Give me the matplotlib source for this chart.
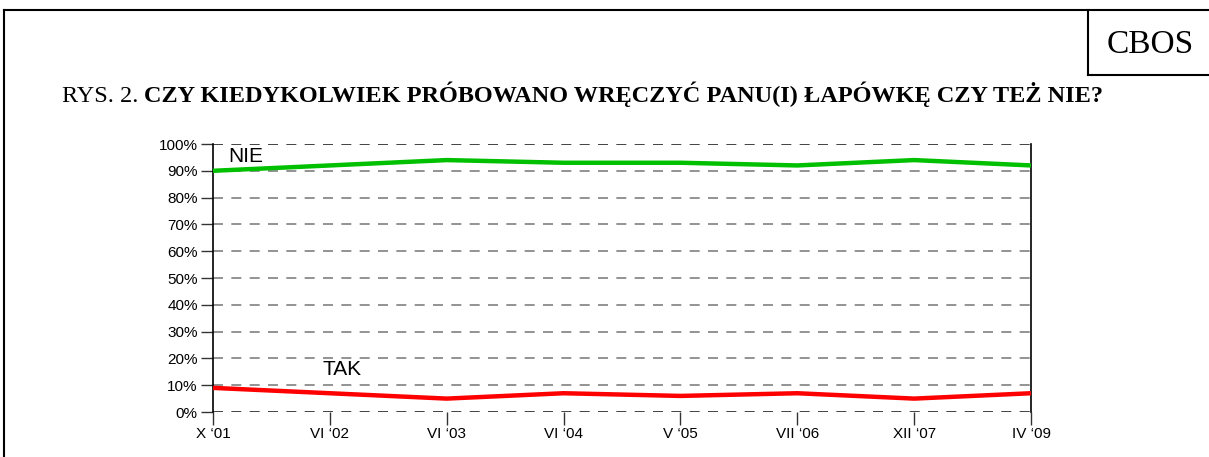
'''CBOS chart: bribery attempts over time'''
import matplotlib
matplotlib.use('Agg')
import matplotlib.pyplot as plt
from matplotlib.lines import Line2D

SURVEYS = ['X \u201801', 'VI \u201802', 'VI \u201803', 'VI \u201804', 'V \u201805', 'VII \u201806', 'XII \u201807', 'IV \u201809']
NIE = [90, 92, 94, 93, 93, 92, 94, 92]
TAK = [9, 7, 5, 7, 6, 7, 5, 7]
Y_TICKS = list(range(0, 101, 10))


def make_picture():
	fig = plt.figure(figsize=(12.09, 4.57), dpi=100)
	ax = fig.add_axes([213/1209, 1 - 412/457, (1031-213)/1209, (412-144)/457])

	x = list(range(len(SURVEYS)))
	ax.plot(x, NIE, color='#00c000', lw=3.2, solid_capstyle='butt', zorder=3, clip_on=False)
	ax.plot(x, TAK, color='#ff0000', lw=3.2, solid_capstyle='butt', zorder=3, clip_on=False)

	for v in Y_TICKS:
		c = '#222222' if v in (0, 100) else '#808080'
		ax.axhline(v, color=c, lw=1.2, ls=(0, (6, 5)), zorder=1)

	ax.set_xlim(0, len(SURVEYS) - 1)
	ax.set_ylim(0, 100)
	ax.set_xticks(x)
	ax.set_xticklabels(SURVEYS, fontsize=11, family='Liberation Sans')
	ax.set_yticks(Y_TICKS)
	ax.set_yticklabels(['%d%%' % v for v in Y_TICKS], fontsize=11, family='Liberation Sans')
	ax.tick_params(axis='both', length=9, width=1, color='#333333', pad=2)
	for side in ['top', 'bottom']:
		ax.spines[side].set_visible(False)
	ax.spines['left'].set_linewidth(1.2)
	ax.spines['right'].set_linewidth(1.2)

	ax.text(0.13, 95.5, 'NIE', fontsize=15, family='Liberation Sans', va='center', ha='left')
	ax.text(0.94, 15.7, 'TAK', fontsize=15, family='Liberation Sans', va='center', ha='left')

	# frame around the page and the CBOS box
	w, h = 1209, 457
	def px_line(xs, ys):
		fig.add_artist(Line2D([a/w for a in xs], [1 - b/h for b in ys], color='black', lw=1.5, transform=fig.transFigure))
	px_line([4, 4], [10, 457])
	px_line([4, 1209], [10, 10])
	px_line([1088, 1088], [10, 75])
	px_line([1088, 1209], [75, 75])
	fig.text(1150/w, 1 - 53/h, 'CBOS', fontsize=24, family='Liberation Serif', ha='center', va='baseline')

	t1 = fig.text(62/w, 1 - 102/h, 'RYS. 2. ', fontsize=17.5, family='Liberation Serif', ha='left', va='baseline')
	fig.canvas.draw()
	bb = t1.get_window_extent()
	fig.text(bb.x1/w, 1 - 102/h, 'CZY KIEDYKOLWIEK PRÓBOWANO WRĘCZYĆ PANU(I) ŁAPÓWKĘ CZY TEŻ NIE?',
		fontsize=17.5, family='Liberation Serif', weight='bold', ha='left', va='baseline')

	plt.savefig('out.png', dpi=100)
	plt.close()


if __name__ == '__main__':
	make_picture()
